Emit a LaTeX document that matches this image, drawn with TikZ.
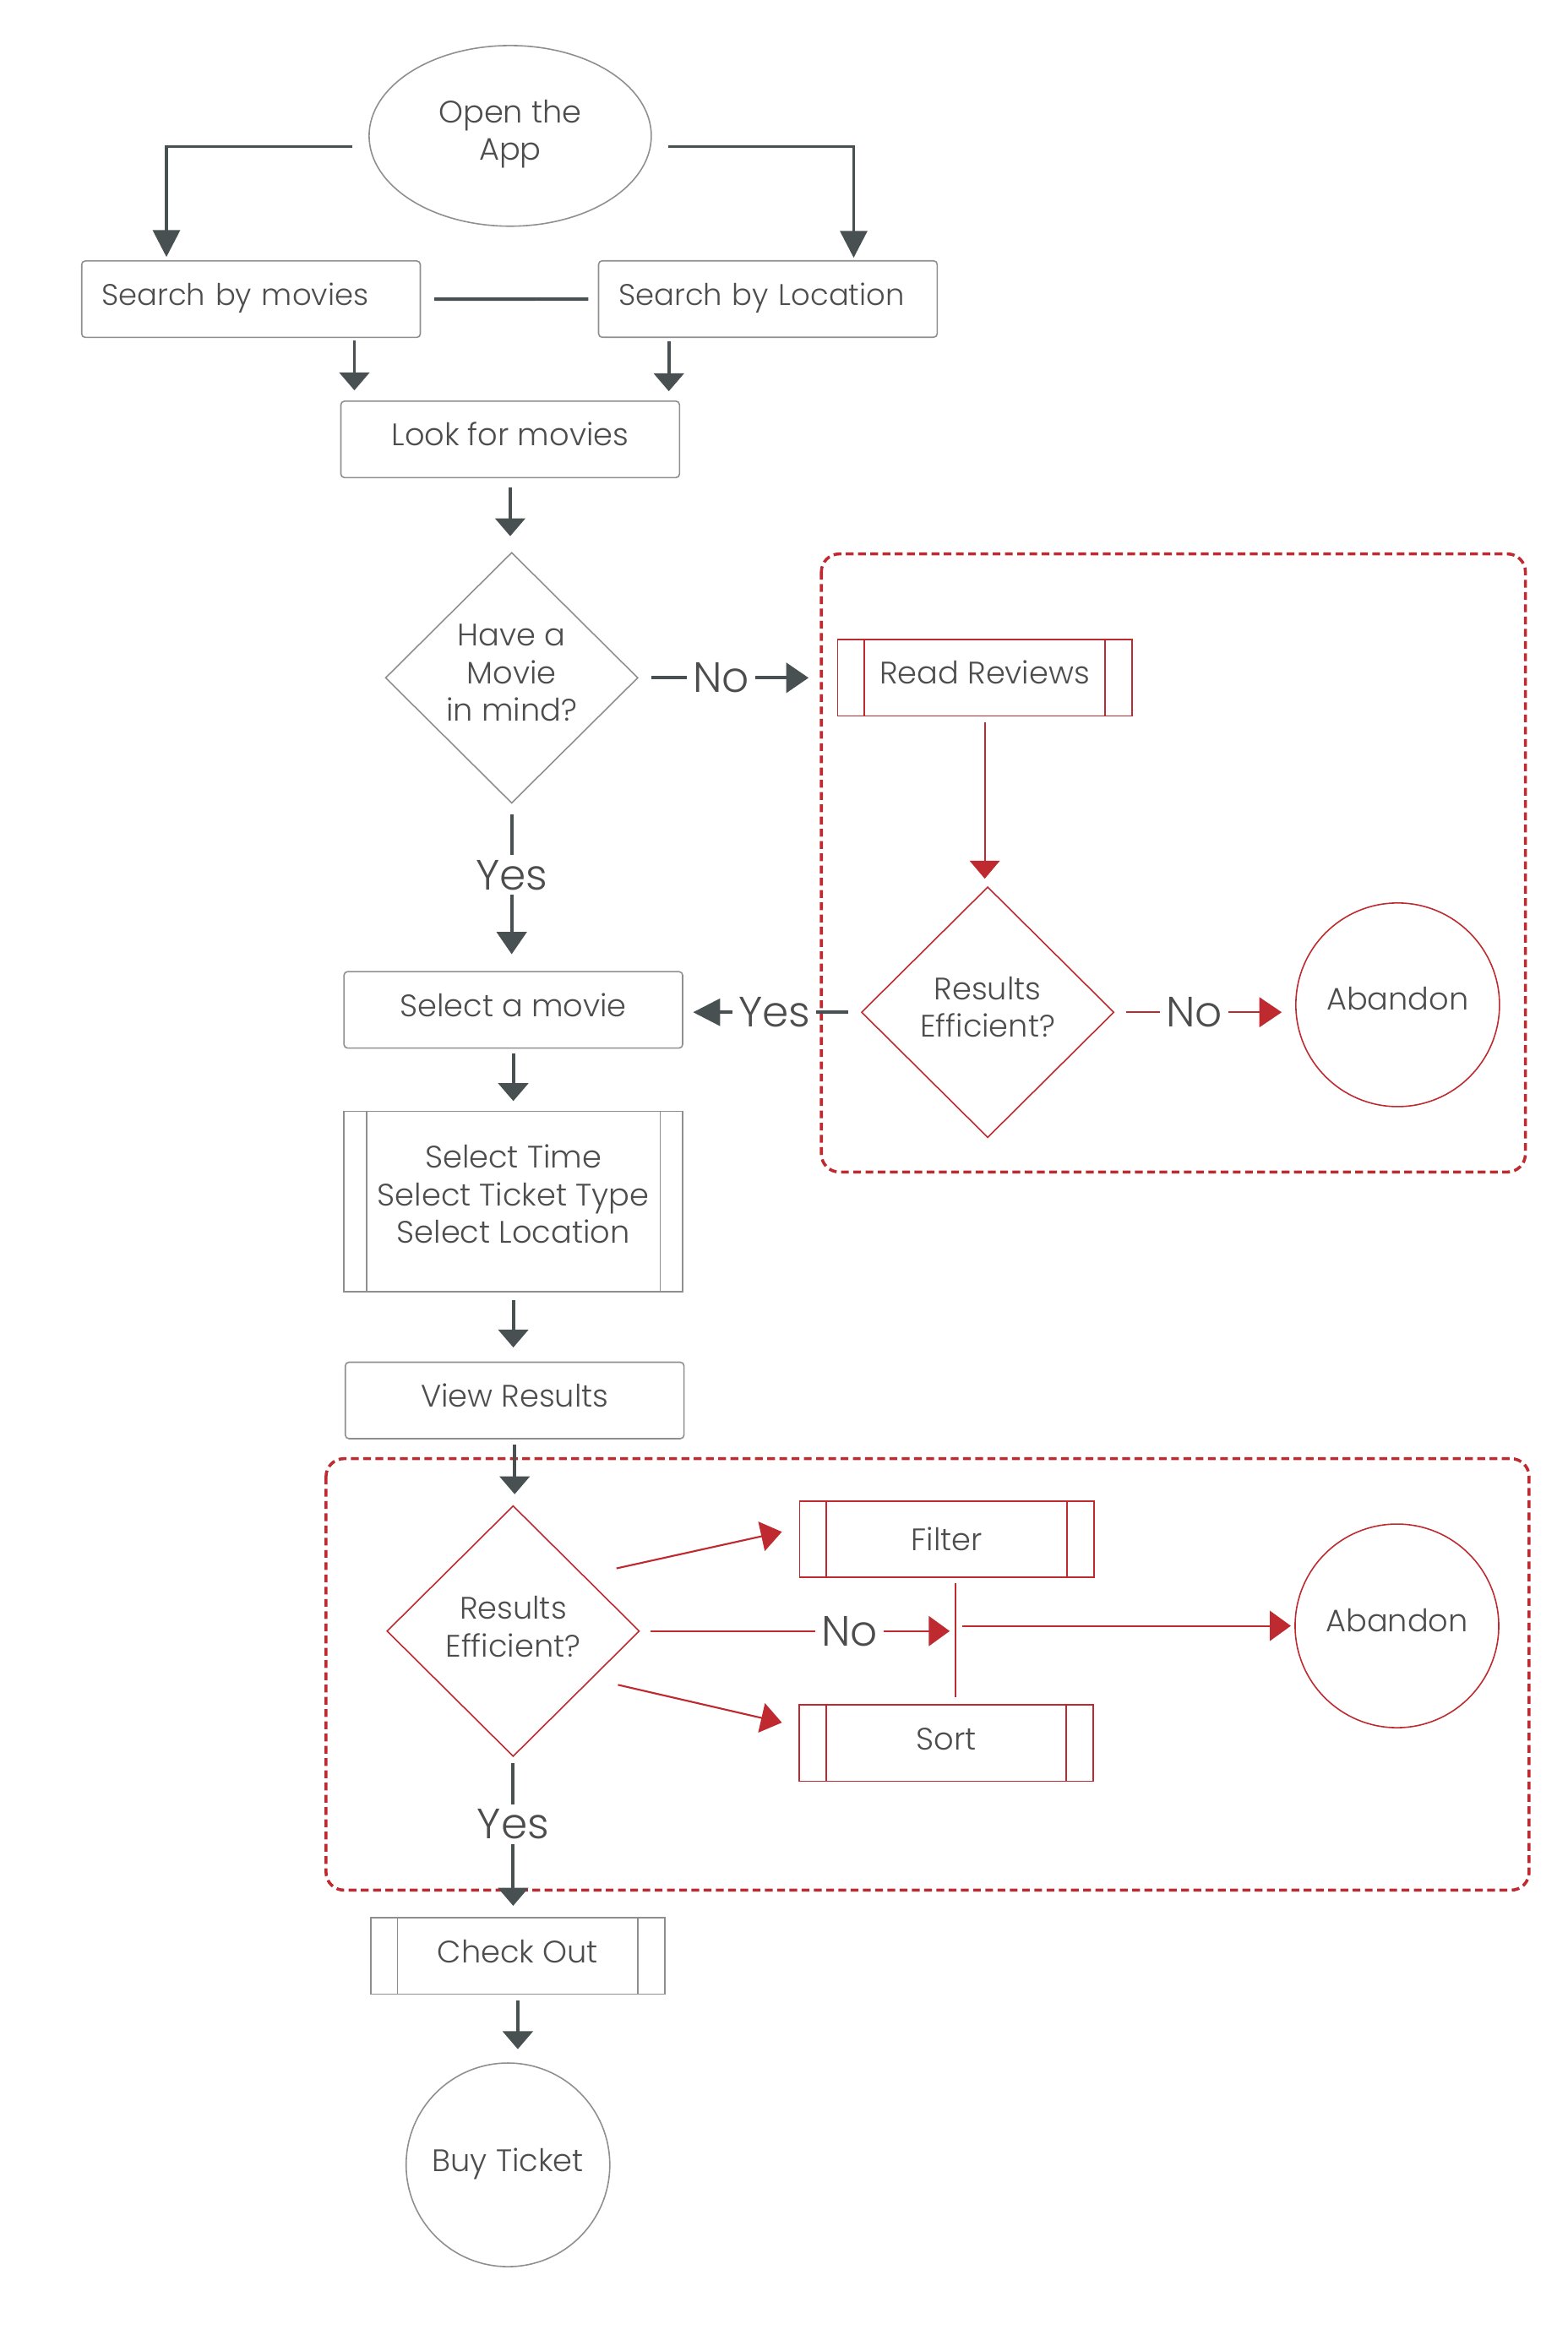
\documentclass[tikz,border=0pt]{standalone}
\usepackage{fontspec}
\setmainfont{Poppins Light}
\usetikzlibrary{shapes.geometric,arrows.meta}

\definecolor{txtgray}{HTML}{4D4D4D}
\definecolor{boxgray}{HTML}{8F8F8F}
\definecolor{arrgray}{HTML}{485052}
\definecolor{flowred}{HTML}{BE2A30}
\newcommand{\nodefont}{\fontsize{10.4}{12.5}\selectfont}
\newcommand{\leftfont}{\fontsize{10}{12.5}\selectfont}
\newcommand{\labfont}{\fontsize{14.2}{16}\selectfont}

\tikzset{
	box/.style={draw=boxgray, line width=0.45pt, rounded corners=1.2pt, minimum width=113.4pt,
		minimum height=25.6pt, text=txtgray, font=\nodefont, align=center, inner sep=0pt,
		text depth=3.5pt},
	leftbox/.style={box, font=\leftfont, align=left, text width=100pt, inner xsep=6.7pt},
	term/.style={ellipse, draw=boxgray, line width=0.45pt, text=txtgray, font=\nodefont,
		align=center, inner sep=0pt, text depth=4pt},
	decide/.style={diamond, draw=#1, line width=0.45pt, minimum width=84.6pt, minimum height=84pt,
		text=txtgray, font=\nodefont, align=center, inner sep=0pt, text depth=3.5pt},
	subproc/.style 2 args={rectangle, draw=#1, line width=0.5pt, minimum width=98.5pt,
		minimum height=25.6pt, text=txtgray, font=\nodefont, align=center, inner sep=0pt,
		text depth=3.5pt,
		path picture={\draw[#1, line width=0.5pt]
			([xshift=#2]path picture bounding box.north west) -- ([xshift=#2]path picture bounding box.south west)
			([xshift=-#2]path picture bounding box.north east) -- ([xshift=-#2]path picture bounding box.south east);}},
	flow/.style={draw=arrgray, line width=1.1pt},
	rflow/.style={draw=flowred, line width=0.6pt},
	arr/.style={-{Triangle[length=6pt,width=10pt]}},
	bigarr/.style={-{Triangle[length=9pt,width=9pt]}},
	labarr/.style={-{Triangle[length=7.5pt,width=10pt]}},
	lab/.style={fill=white, text=txtgray, font=\labfont, inner xsep=2pt, inner ysep=1.7pt,
		text depth=0pt},
	group/.style={draw=flowred, line width=1pt, dash pattern=on 2.6pt off 1.5pt, rounded corners=6pt}
}

\begin{document}
\begin{tikzpicture}[x=0.4974pt,y=-0.5pt]
	\useasboundingbox (0,0) rectangle (1055.6,1564);

	% dashed groups
	\draw[group] (553,371) rectangle (1027,785);
	\draw[group] (219.5,977) rectangle (1029.5,1266);

	% nodes
	\node[term, minimum width=94.5pt, minimum height=60.5pt] (app) at (343.5,91) {Open the\\App};
	\node[leftbox] (smov) at (169,200.4) {Search by movies};
	\node[leftbox] (sloc) at (517,200.3) {Search by Location};
	\node[box] (look) at (343.5,294.3) {Look for movies};
	\node[decide=boxgray] (q1) at (344.5,454) {Have a\\Movie\\in mind?};
	\node[subproc={flowred}{9pt}] (rr) at (663,454) {Read Reviews};
	\node[decide=flowred] (q2) at (665,678) {Results\\Efficient?};
	\node[term, circle, draw=flowred, minimum size=68.2pt] (ab1) at (941,673) {Abandon};
	\node[box] (sel) at (345.6,676.4) {Select a movie};
	\node[subproc={boxgray}{7.5pt}, minimum width=113.4pt, minimum height=60.3pt, text depth=5pt]
		(opts) at (345.6,804.7) {Select Time\\Select Ticket Type\\Select Location};
	\node[box] (view) at (346.5,938) {View Results};
	\node[decide=flowred, text depth=3pt] (q3) at (345.5,1092.5) {Results\\Efficient?};
	\node[subproc={flowred}{9pt}, text depth=0pt] (filt) at (637.4,1031) {Filter};
	\node[subproc={flowred}{9pt}, text depth=3pt] (sort) at (637,1167.5) {Sort};
	\node[term, circle, draw=flowred, minimum size=68.2pt] (ab2) at (940.5,1089) {Abandon};
	\node[subproc={boxgray}{9pt}, text depth=3pt] (chk) at (348.6,1310) {Check Out};
	\node[term, circle, minimum size=68.2pt, text depth=3.3pt] (buy) at (342,1450) {Buy Ticket};

	% helper points
	\coordinate (lookL) at ([xshift=4.75pt]look.north west);
	\coordinate (lookR) at ([xshift=-3.8pt]look.north east);
	\coordinate (jx) at ([xshift=3pt]filt.south);
	\coordinate (jn) at (jx |- ab2.west);

	% connectors
	\draw[flow, bigarr] ([xshift=-5.5pt,yshift=-3.6pt]app.west) -| ([xshift=28.6pt,yshift=1.1pt]smov.north west);
	\draw[flow, bigarr] ([xshift=5.5pt,yshift=-3.6pt]app.east) -| ([xshift=-28.2pt,yshift=0.8pt]sloc.north east);
	\draw[flow, shorten <=4.5pt, shorten >=3.2pt] (smov.east) -- (sloc.west);
	\draw[flow, arr, shorten <=0.7pt, shorten >=3.4pt] (lookL |- smov.south) -- (lookL);
	\draw[flow, arr, shorten <=1pt, shorten >=3.1pt] (lookR |- sloc.south) -- (lookR);
	\draw[flow, arr, shorten <=3pt, shorten >=5.2pt] (look.south) -- (look.south |- q1.north);
	\draw[flow, labarr, shorten <=4.3pt, shorten >=9.5pt] (q1.east) -- (q1.east -| rr.west)
		node[lab, pos=0.417] {No};
	\draw[rflow, -{Triangle[length=6pt,width=10pt]}, shorten <=1.8pt, shorten >=2.5pt]
		(rr.south) -- (rr.south |- q2.north);
	\draw[flow, bigarr, line width=1pt, shorten <=4.1pt, shorten >=3.3pt] (q2.west) -- (q2.west -| sel.east)
		node[lab, pos=0.486] {Yes};
	\draw[rflow, -{Triangle[length=7.5pt,width=10pt]}, shorten <=3.75pt, shorten >=4.5pt]
		(q2.east) -- (q2.east -| ab1.west) node[lab, pos=0.44] {No};
	\draw[flow, labarr, shorten <=3.5pt, shorten >=5.6pt] (q1.south) -- (q1.south |- sel.north)
		node[lab, pos=0.425] {Yes};
	\draw[flow, arr, shorten <=1.6pt, shorten >=3.2pt] (sel.south) -- (sel.south |- opts.north);
	\draw[flow, arr, shorten <=2.7pt, shorten >=4.7pt] (opts.south) -- (opts.south |- view.north);
	\draw[flow, arr, shorten <=1.75pt, shorten >=3.6pt] (view.south) -- (view.south |- q3.north);
	\draw[rflow, -{Triangle[length=7pt,width=10pt]}] ([xshift=34.6pt,yshift=21pt]q3.center)
		-- ([xshift=-5.7pt,yshift=2.5pt]filt.west);
	\draw[rflow, -{Triangle[length=7pt,width=10pt]}] ([xshift=35.1pt,yshift=-18pt]q3.center)
		-- ([xshift=-5.5pt,yshift=6.85pt]sort.west);
	\draw[rflow, shorten <=1.6pt, shorten >=2.4pt] (jx) -- (jx |- sort.north);
	\draw[rflow, -{Triangle[length=7pt,width=10pt]}, shorten <=3.6pt, shorten >=2pt]
		(q3.east) -- (q3.east -| jn) node[lab, pos=0.664] {No};
	\draw[rflow, -{Triangle[length=7pt,width=10pt]}, shorten <=2.3pt, shorten >=1.2pt] (jn) -- (ab2.west);
	\draw[flow, arr, shorten <=2pt, shorten >=3.7pt] (q3.south) -- (q3.south |- chk.north)
		node[lab, pos=0.42] {Yes};
	\draw[flow, arr, shorten <=2pt, shorten >=4.4pt] (chk.south) -- (chk.south |- buy.north);
\end{tikzpicture}
\end{document}
